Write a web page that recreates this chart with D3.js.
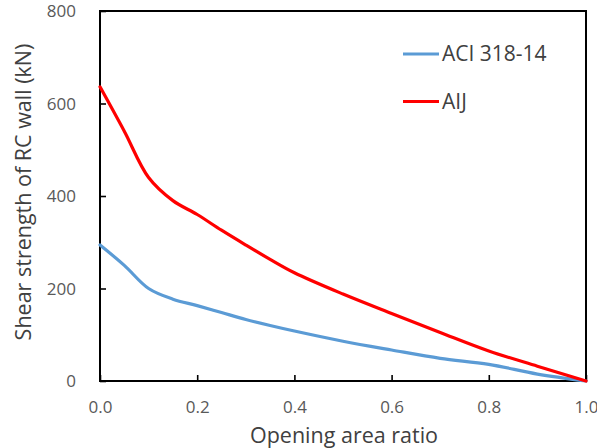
<!DOCTYPE html>
<html>
<head>
<meta charset="utf-8">
<script src="https://cdn.jsdelivr.net/npm/d3@7"></script>
<style>
  html, body { margin: 0; padding: 0; background: #fff; }
  svg { display: block; }
  text { font-family: "Open Sans", sans-serif; }
</style>
</head>
<body>
<svg id="chart" width="597" height="448" viewBox="0 0 597 448"></svg>
<script>
const ratios = [0, 0.05, 0.1, 0.15, 0.2, 0.25, 0.3, 0.35, 0.4, 0.5, 0.6, 0.7, 0.8, 0.9, 1.0];
const aciValues = [294, 250, 200, 177, 163, 148, 133, 120, 108, 86, 67, 49, 36, 15, 0];
const aijValues = [636, 540, 440, 390, 360, 326, 294, 263, 234, 188, 146, 105, 65, 32, 0];
const seriesNames = ["ACI 318-14", "AIJ"];
const seriesColors = ["#5B9BD5", "#FF0000"];
const xTicks = [0, 0.2, 0.4, 0.6, 0.8, 1.0];
const yTicks = [0, 200, 400, 600, 800];
const xTitle = "Opening area ratio";
const yTitle = "Shear strength of RC wall (kN)";

const svg = d3.select("#chart");
const L = 100, R = 586, T = 11, B = 381;
const x = d3.scaleLinear().domain([0, 1]).range([L, R]);
const y = d3.scaleLinear().domain([0, 800]).range([B, T]);

// plot box
svg.append("path")
  .attr("d", d3.path ? (() => { const p = d3.path(); p.moveTo(x(0), y(800)); p.lineTo(x(1), y(800)); p.lineTo(x(1), y(0)); p.lineTo(x(0), y(0)); p.closePath(); return p.toString(); })() : "")
  .attr("fill", "none").attr("stroke", "#000000").attr("stroke-width", 2);

// inward ticks
const xAxis = d3.axisBottom(x).tickValues(xTicks).tickSize(-6).tickFormat(d3.format(".1f"));
const yAxis = d3.axisLeft(y).tickValues(yTicks).tickSize(-6).tickFormat(d3.format("d"));

const gx = svg.append("g").attr("transform", `translate(0,${B})`).call(xAxis);
gx.select(".domain").remove();
gx.selectAll(".tick line").attr("stroke", "#000").attr("stroke-width", 1.6);
gx.selectAll(".tick text").attr("y", 20).attr("dy", "0.71em")
  .attr("font-size", 17).attr("fill", "#595959").attr("font-family", "Open Sans");

const gy = svg.append("g").attr("transform", `translate(${L},0)`).call(yAxis);
gy.select(".domain").remove();
gy.selectAll(".tick line").attr("stroke", "#000").attr("stroke-width", 1.6);
gy.selectAll(".tick text").attr("x", -24).attr("dy", "0.35em")
  .attr("font-size", 17).attr("fill", "#595959").attr("font-family", "Open Sans");

const line = d3.line().x((d, i) => x(ratios[i])).y(d => y(d)).curve(d3.curveCatmullRom.alpha(0.5));
[aciValues, aijValues].forEach((vals, k) => {
  svg.append("path").datum(vals).attr("d", line)
    .attr("fill", "none").attr("stroke", seriesColors[k]).attr("stroke-width", 3.2)
    .attr("stroke-linejoin", "round").attr("stroke-linecap", "round");
});

// legend
const legY = [54, 101.5];
seriesNames.forEach((name, k) => {
  svg.append("line").attr("x1", 403).attr("x2", 439).attr("y1", legY[k]).attr("y2", legY[k])
    .attr("stroke", seriesColors[k]).attr("stroke-width", 3.2);
  svg.append("text").attr("x", 442).attr("y", legY[k]).attr("dy", "0.35em")
    .attr("font-size", 21).attr("fill", "#404040").text(name);
});

// axis titles
svg.append("text").attr("x", 344).attr("y", 443).attr("text-anchor", "middle")
  .attr("font-size", 21.5).attr("fill", "#404040").text(xTitle);
svg.append("text").attr("transform", "translate(31,192) rotate(-90)").attr("text-anchor", "middle")
  .attr("font-size", 21.5).attr("fill", "#404040").text(yTitle);
</script>
</body>
</html>
